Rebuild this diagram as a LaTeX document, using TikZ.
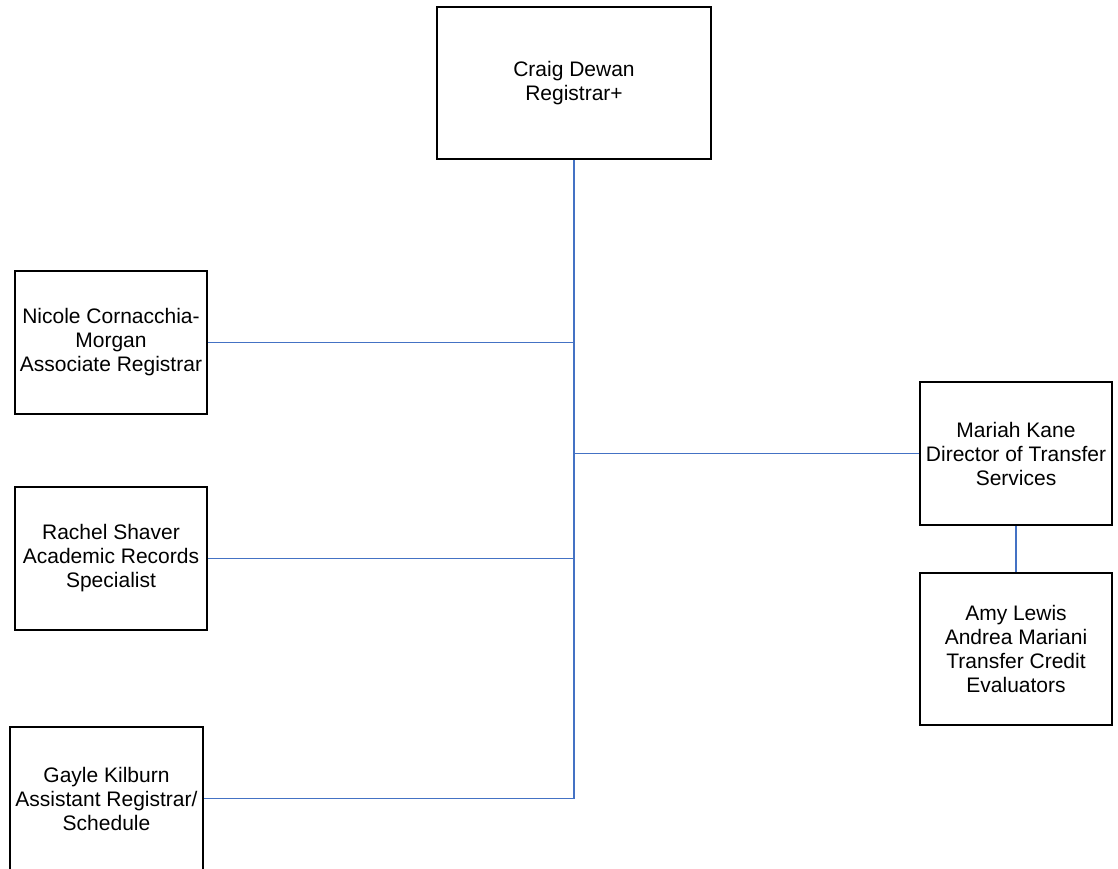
\documentclass[tikz,border=0pt]{standalone}
\usepackage{fontspec}
\setmainfont{Liberation Sans}
\definecolor{linkblue}{RGB}{68,114,196}
\tikzset{
    person/.style={draw=black, line width=2pt, align=center, inner sep=0pt,
        font=\fontsize{21}{24}\selectfont},
    link/.style={draw=linkblue, line width=1.5pt}
}

\begin{document}
\begin{tikzpicture}[x=1pt,y=-1pt]
    \useasboundingbox (0,0) rectangle (1118,869);

    %% The boxes
    \node[person, minimum width=274pt, minimum height=152pt] (craig) at (574,83) {Craig Dewan\\Registrar+};
    \node[person, minimum width=192pt, minimum height=143pt] (nicole) at (111,342.5) {Nicole Cornacchia-\\Morgan\\Associate Registrar};
    \node[person, minimum width=192pt, minimum height=143pt] (rachel) at (111,558.5) {Rachel Shaver\\Academic Records\\Specialist};
    \node[person, minimum width=193pt, minimum height=143pt] (gayle) at (106.5,798.5) {Gayle Kilburn\\Assistant Registrar/\\Schedule};
    \node[person, minimum width=192pt, minimum height=143pt] (mariah) at (1016,453.5) {Mariah Kane\\Director of Transfer\\Services};
    \node[person, minimum width=192pt, minimum height=152pt] (amy) at (1016,649) {Amy Lewis\\Andrea Mariani\\Transfer Credit\\Evaluators};

    %% The connectors
    \coordinate (busend) at (gayle.east -| craig.south);
    \draw[link] (craig.south) -- (busend);
    \draw[link] (nicole.east) -- (nicole.east -| craig.south);
    \draw[link] (rachel.east) -- (rachel.east -| craig.south);
    \draw[link] (gayle.east) -- (busend);
    \draw[link] (mariah.west) -- (mariah.west -| craig.south);
    \draw[link] (mariah.south) -- (amy.north);
\end{tikzpicture}
\end{document}
